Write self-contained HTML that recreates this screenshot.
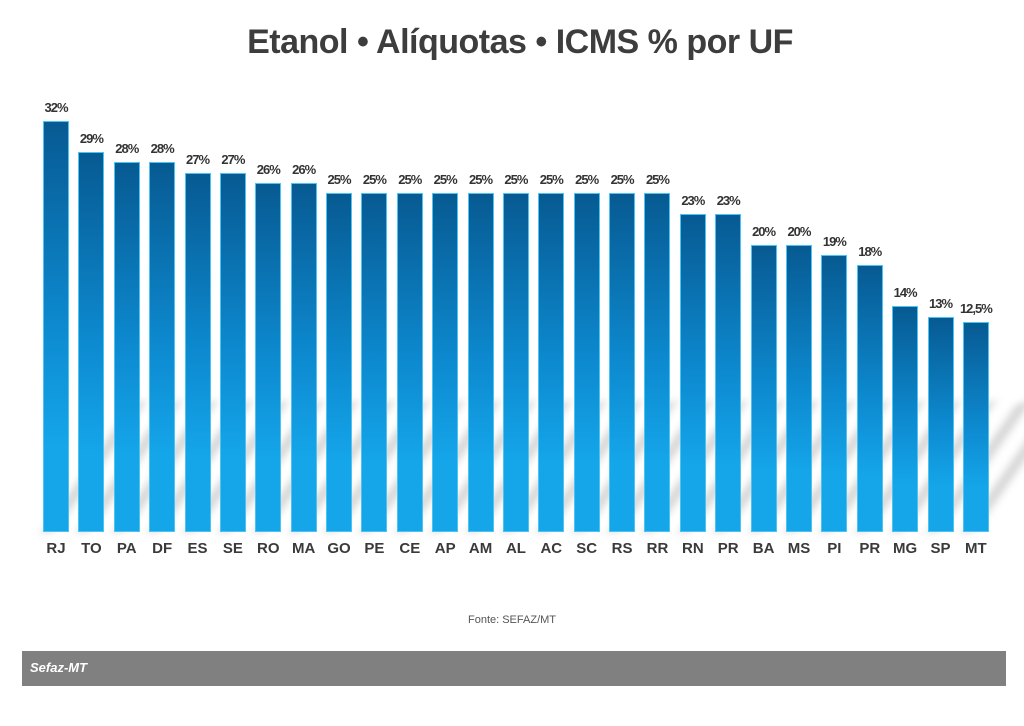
<!DOCTYPE html>
<html><head><meta charset="utf-8"><style>
body{margin:0;width:1024px;height:726px;background:#fff;position:relative;overflow:hidden;font-family:"Liberation Sans",sans-serif}
.t{position:absolute;left:0;width:1040px;top:23px;text-align:center;font-size:34px;font-weight:bold;color:#3d3d3d;letter-spacing:-0.5px}
.b{position:absolute;width:26px;background:linear-gradient(#075a92,#0d8ad0 50%,#15a6ea 80%);border:1px solid #4cc3f5;box-sizing:border-box}
.s{position:absolute;width:22px;height:130px;top:402px;background:linear-gradient(90deg,rgba(150,150,150,0),rgba(150,150,150,.45),rgba(150,150,150,0));transform:skewX(-35deg);filter:blur(4px)}
.v{position:absolute;width:50px;text-align:center;font-size:13px;font-weight:bold;color:#333;letter-spacing:-1px}
.l{position:absolute;width:40px;text-align:center;top:540px;font-size:15px;font-weight:bold;color:#3a3a3a}
</style></head><body>
<div class="t">Etanol • Alíquotas • ICMS % por UF</div>
<div id="c"></div>
<div style="position:absolute;left:0;width:1024px;top:614px;text-align:center;font-size:11px;color:#555">Fonte: SEFAZ/MT</div>
<div style="position:absolute;left:22px;top:651px;width:984px;height:35px;background:#808080"></div>
<div style="position:absolute;left:30px;top:660px;font-size:13px;font-weight:bold;font-style:italic;color:#fff">Sefaz-MT</div>
<script>
var d=[["RJ",32,"32%"],["TO",29,"29%"],["PA",28,"28%"],["DF",28,"28%"],["ES",27,"27%"],["SE",27,"27%"],["RO",26,"26%"],["MA",26,"26%"],["GO",25,"25%"],["PE",25,"25%"],["CE",25,"25%"],["AP",25,"25%"],["AM",25,"25%"],["AL",25,"25%"],["AC",25,"25%"],["SC",25,"25%"],["RS",25,"25%"],["RR",25,"25%"],["RN",23,"23%"],["PR",23,"23%"],["BA",20,"20%"],["MS",20,"20%"],["PI",19,"19%"],["PR",18,"18%"],["MG",14,"14%"],["SP",13,"13%"],["MT",12.5,"12,5%"]];
var h="";
d.forEach(function(e,i){var x=43+i*35.38;
h+='<div class="s" style="left:'+(x+40)+'px"></div>';});
d.forEach(function(e,i){var x=43+i*35.38,top=121+(32-e[1])*10.3;
h+='<div class="b" style="left:'+x+'px;top:'+top+'px;height:'+(532-top)+'px"></div>';
h+='<div class="v" style="left:'+(x-12)+'px;top:'+(top-21)+'px">'+e[2]+'</div>';
h+='<div class="l" style="left:'+(x-7)+'px">'+e[0]+'</div>';});
document.getElementById("c").innerHTML=h;
</script>
</body></html>
